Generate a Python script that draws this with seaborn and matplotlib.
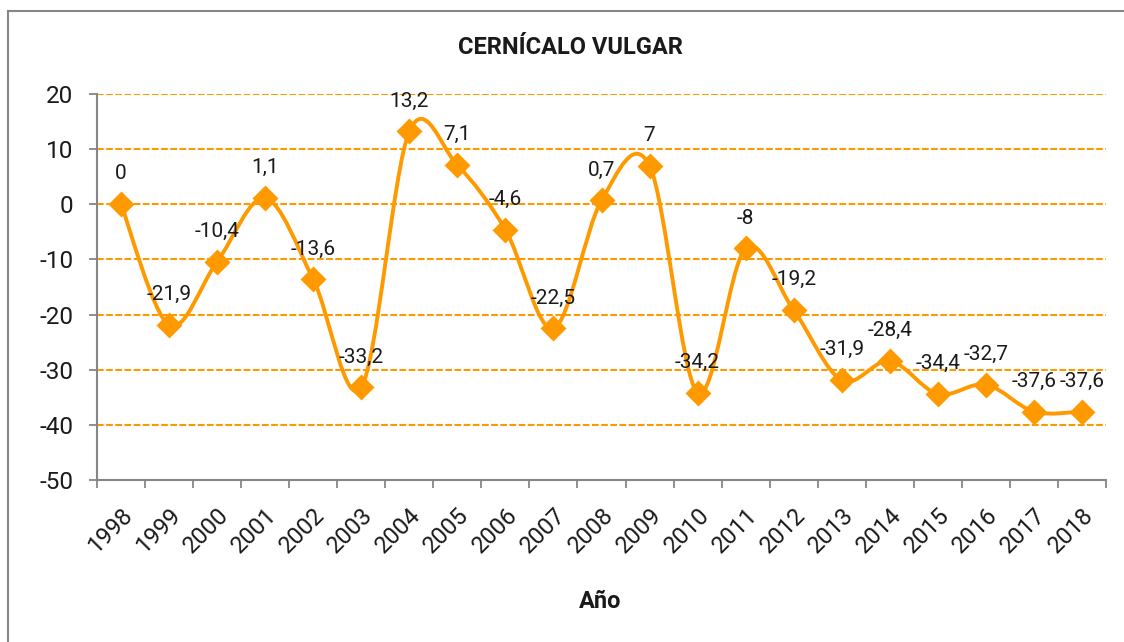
import matplotlib
matplotlib.use('Agg')
import matplotlib.pyplot as plt
import matplotlib.patches as mpatches
from matplotlib.path import Path
import numpy as np
import pandas as pd
import seaborn as sns

# datos
years = ['1998', '1999', '2000', '2001', '2002', '2003', '2004', '2005', '2006', '2007',
         '2008', '2009', '2010', '2011', '2012', '2013', '2014', '2015', '2016', '2017', '2018']
values = [0, -21.9, -10.4, 1.1, -13.6, -33.2, 13.2, 7.1, -4.6, -22.5,
          0.7, 7, -34.2, -8, -19.2, -31.9, -28.4, -34.4, -32.7, -37.6, -37.6]
y_ticks = [-50, -40, -30, -20, -10, 0, 10, 20]

naranja = '#FF9900'
gris = '#868686'

sns.set_style('white')
plt.rcParams['font.family'] = ['Roboto', 'DejaVu Sans']

df = pd.DataFrame({'pos': np.arange(len(years)), 'valor': values})

fig = plt.figure(figsize=(11.24, 6.42), dpi=100)
ax = fig.add_axes([97 / 1124, 1 - 480 / 642, (1106 - 97) / 1124, (480 - 94) / 642])

# linea suavizada (bezier tipo excel)
pts = df[['pos', 'valor']].to_numpy(dtype=float)
verts = [tuple(pts[0])]
codes = [Path.MOVETO]
for i in range(len(pts) - 1):
    p0 = pts[i - 1] if i > 0 else pts[i]
    p1 = pts[i]
    p2 = pts[i + 1]
    p3 = pts[i + 2] if i + 2 < len(pts) else pts[i + 1]
    c1 = p1 + (p2 - p0) / 6
    c2 = p2 - (p3 - p1) / 6
    verts += [tuple(c1), tuple(c2), tuple(p2)]
    codes += [Path.CURVE4] * 3
ax.add_patch(mpatches.PathPatch(Path(verts, codes), facecolor='none', edgecolor=naranja,
                                lw=2.8, zorder=3, capstyle='round', joinstyle='round'))

sns.scatterplot(data=df, x='pos', y='valor', marker='D', s=175, color=naranja,
                edgecolor=naranja, linewidth=0, ax=ax, zorder=4, legend=False)

for x, v in zip(df['pos'], values):
    etiqueta = f'{v:g}'.replace('.', ',')
    ax.annotate(etiqueta, (x, v), xytext=(0, 15), textcoords='offset points',
                ha='center', va='bottom', fontsize=15, color='#1a1a1a', zorder=5)

ax.set_xlim(-0.5, len(years) - 0.5)
ax.set_ylim(-50, 20)
ax.set_yticks(y_ticks)
ax.set_yticklabels([str(t) for t in y_ticks], fontsize=17.5, color='#1a1a1a')
ax.set_xticks(df['pos'])
ax.set_xticklabels(years, rotation=45, ha='right', rotation_mode='anchor',
                   fontsize=17, color='#1a1a1a')
ax.set_xticks(np.arange(-0.5, len(years)), minor=True)
ax.tick_params(axis='x', which='major', length=0, pad=17)
ax.tick_params(axis='x', which='minor', length=6, width=1.3, color=gris, direction='out', bottom=True)
ax.tick_params(axis='y', length=6, width=1.3, color=gris, direction='out', left=True, pad=11)

for t in y_ticks[1:]:
    ax.axhline(t, color=naranja, lw=1.5, linestyle=(0, (3.2, 1.2)), zorder=1)

for s in ['top', 'right']:
    ax.spines[s].set_visible(False)
for s in ['left', 'bottom']:
    ax.spines[s].set_color(gris)
    ax.spines[s].set_linewidth(1.5)

ax.set_ylabel('')
ax.set_xlabel('')
fig.text(600 / 1124, 1 - 602 / 642, 'Año', ha='center', va='center', fontsize=17,
         fontweight='bold', color='#1a1a1a')
fig.text(570 / 1124, 1 - 47 / 642, 'CERNÍCALO VULGAR', ha='center', va='center',
         fontsize=17, fontweight='bold', color='#1a1a1a')

# borde del grafico
fig.add_artist(mpatches.Rectangle((8 / 1124, -0.1), 1.2, 1 - 10.5 / 642 + 0.1,
                                  transform=fig.transFigure, fill=False,
                                  edgecolor=gris, lw=1.5, clip_on=False))

fig.savefig('out.png', dpi=100)
